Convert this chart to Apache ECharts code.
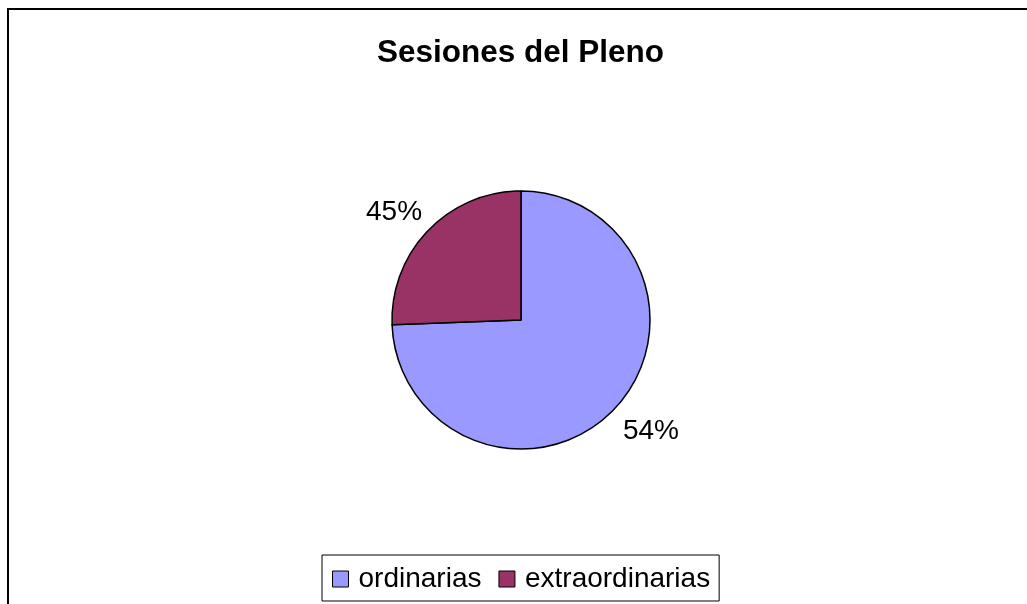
<!DOCTYPE html>
<html lang="en">
  <head>
    <meta charset="UTF-8" />
    <title>Sesiones del Pleno</title>
    <script src="https://cdn.jsdelivr.net/npm/echarts@6/dist/echarts.min.js"></script>
    <style>
      html, body { margin: 0; padding: 0; background: #fff; }
    </style>
  </head>
  <body>
    <div id="chart" style="width: 1027px; height: 604px"></div>

    <script type="text/javascript">
      // Data (slice sizes) and the printed labels
      const categories = ["ordinarias", "extraordinarias"];
      const values = [74.4, 25.6];
      const labelTexts = ["54%", "45%"];
      const colors = ["#9999FF", "#993366"];

      // nudges for the percent labels (they sit a bit off the slice middle)
      const labelOffsets = [[9, 22], [-6, -18]];

      const chart = echarts.init(document.getElementById("chart"));

      const option = {
        backgroundColor: "#ffffff",
        title: {
          text: "Sesiones del Pleno",
          left: 372,
          top: 32,
          textStyle: {
            fontFamily: "Liberation Sans",
            fontSize: 31.5,
            fontWeight: "bold",
            color: "#000",
          },
        },
        legend: {
          data: categories,
          left: 322,
          top: 555,
          icon: "rect",
          itemWidth: 16,
          itemHeight: 16,
          itemGap: 17,
          padding: [10, 9, 8, 10],
          borderColor: "#000",
          borderWidth: 1,
          itemStyle: { borderColor: "#000", borderWidth: 1 },
          textStyle: {
            fontFamily: "Liberation Sans",
            fontSize: 28,
            lineHeight: 28,
            color: "#000",
            padding: [0, 0, 0, 5],
          },
        },
        // frame of the chart area (left + top edges visible)
        graphic: [
          {
            type: "rect",
            shape: { x: 8, y: 9, width: 1100, height: 700 },
            style: { fill: "none", stroke: "#000", lineWidth: 2 },
            silent: true,
          },
        ],
        series: [
          {
            type: "pie",
            center: [521, 320],
            radius: 129,
            startAngle: 90,
            clockwise: true,
            animation: false,
            avoidLabelOverlap: false,
            itemStyle: { borderColor: "#000", borderWidth: 1.5 },
            label: {
              show: true,
              position: "outside",
              fontFamily: "Liberation Sans",
              fontSize: 28,
              color: "#000",
              distanceToLabelLine: 0,
              formatter: (p) => labelTexts[p.dataIndex],
            },
            labelLine: { show: false, length: 0, length2: 0 },
            emphasis: { disabled: true },
            data: categories.map((name, i) => ({
              name: name,
              value: values[i],
              itemStyle: { color: colors[i] },
              label: { offset: labelOffsets[i] },
            })),
          },
        ],
      };

      chart.setOption(option);
    </script>
  </body>
</html>
